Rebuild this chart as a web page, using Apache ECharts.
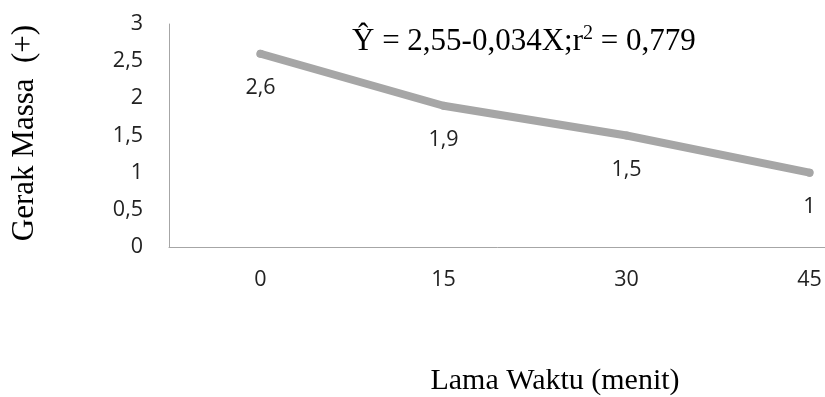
<!DOCTYPE html>
<html>
<head>
<meta charset="utf-8">
<script src="https://cdn.jsdelivr.net/npm/echarts@6/dist/echarts.min.js"></script>
<style>html,body{margin:0;padding:0;background:#fff}#c{width:825px;height:397px}</style>
</head>
<body>
<div id="c"></div>
<script>
var categories = ['0', '15', '30', '45'];
var values = [2.6, 1.9, 1.5, 1.0];
var yTicks = [0, 0.5, 1, 1.5, 2, 2.5, 3];
var xTitle = 'Lama Waktu (menit)';
var yTitle = 'Gerak Massa  (+)';
var eqMain = 'Ŷ = 2,55-0,034X;r';
var eqSup = '2';
var eqTail = ' = 0,779';

function fmt(v) { return String(v).replace('.', ','); }

var chart = echarts.init(document.getElementById('c'));
chart.setOption({
  animation: false,
  grid: { left: 169, top: 24, bottom: 150, width: 732, containLabel: false, outerBoundsMode: 'none' },
  xAxis: {
    type: 'category',
    data: categories,
    boundaryGap: true,
    axisLine: { lineStyle: { color: '#a6a6a6', width: 1 } },
    axisTick: { show: false },
    axisLabel: { fontFamily: 'Open Sans', fontSize: 21.5, color: '#222', margin: 22 },
    splitLine: { show: false }
  },
  yAxis: {
    type: 'value',
    min: yTicks[0],
    max: yTicks[yTicks.length - 1],
    interval: 0.5,
    axisLine: { show: true, lineStyle: { color: '#a6a6a6', width: 1 } },
    axisTick: { show: false },
    axisLabel: { fontFamily: 'Open Sans', fontSize: 21.5, color: '#222', margin: 26, formatter: fmt },
    splitLine: { show: false }
  },
  series: [{
    type: 'line',
    data: values,
    showSymbol: true,
    symbol: 'circle',
    symbolSize: 8,
    itemStyle: { color: '#a6a6a6' },
    lineStyle: { color: '#a6a6a6', width: 8, cap: 'round', join: 'round' },
    label: {
      show: true,
      position: 'bottom',
      distance: 19,
      fontFamily: 'Open Sans',
      fontSize: 21.5,
      color: '#222',
      formatter: function (p) { return fmt(p.value); }
    },
    emphasis: { disabled: true }
  }],
  graphic: [
    {
      type: 'text',
      left: 352,
      top: 24,
      style: {
        text: '{a|' + eqMain + '}{s|' + eqSup + '}{a|' + eqTail + '}',
        rich: {
          a: { fontFamily: 'Liberation Serif', fontSize: 31, color: '#000', lineHeight: 36 },
          s: { fontFamily: 'Liberation Serif', fontSize: 20, color: '#000', verticalAlign: 'top', lineHeight: 36 }
        }
      }
    },
    {
      type: 'text',
      x: 555,
      y: 381,
      style: {
        text: xTitle,
        fontFamily: 'Liberation Serif',
        fontSize: 30,
        fill: '#000',
        align: 'center',
        verticalAlign: 'middle'
      }
    },
    {
      type: 'text',
      x: 25,
      y: 133,
      rotation: Math.PI / 2,
      style: {
        text: yTitle,
        fontFamily: 'Liberation Serif',
        fontSize: 31,
        fill: '#000',
        align: 'center',
        verticalAlign: 'middle'
      }
    }
  ]
});
</script>
</body>
</html>
